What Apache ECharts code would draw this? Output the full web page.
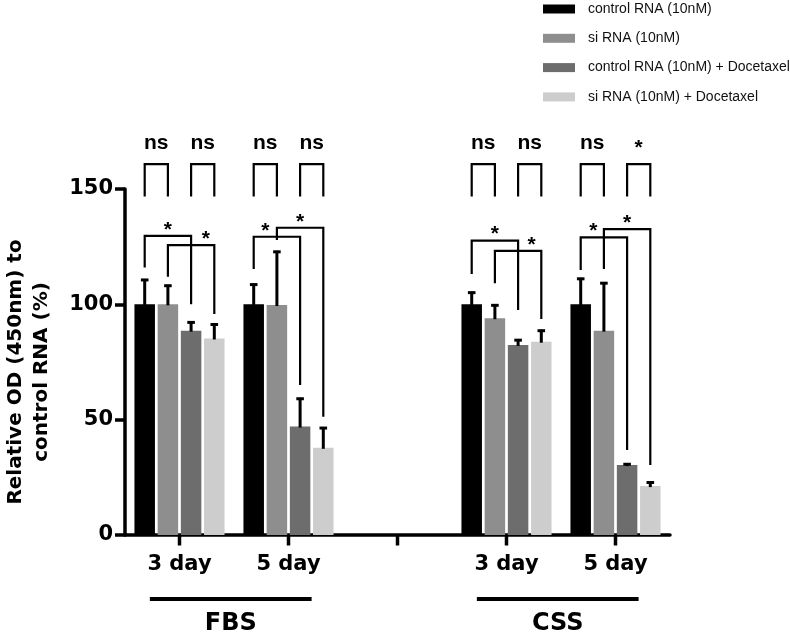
<!DOCTYPE html>
<html>
<head>
<meta charset="utf-8">
<script src="https://cdn.jsdelivr.net/npm/echarts@6/dist/echarts.min.js"></script>
<style>
html,body{margin:0;padding:0;background:#fff;}
#chart{width:790px;height:634px;}
</style>
</head>
<body>
<div id="chart"></div>
<script>
// ---- data ----
var categories = ['3 day', '5 day', '', '3 day', '5 day'];
var seriesNames = ['control RNA (10nM)', 'si RNA (10nM)', 'control RNA (10nM) + Docetaxel', 'si RNA (10nM) + Docetaxel'];
var controlRNA    = [100, 100, null, 100, 100];
var siRNA         = [100, 99.7, null, 94, 88.6];
var controlDoc    = [88.6, 47, null, 82.4, 30.3];
var siDoc         = [85.2, 37.8, null, 83.8, 21.2];
var controlRNAErr = [11, 9, null, 5.5, 11.5];
var siRNAErr      = [8.5, 23.5, null, 6, 21];
var controlDocErr = [4, 12.5, null, 2.5, 0.8];
var siDocErr      = [6.5, 9, null, 5.2, 2];
var yTicks = [0, 50, 100, 150];
// brackets: [category, barA, barB, top, leftLegEnd, rightLegEnd, label, labelFraction]
var pairBrackets = [
  [0, 0, 1, 160.8, 146.7, 146.7, 'ns', 0.5],
  [0, 2, 3, 160.8, 146.7, 146.7, 'ns', 0.5],
  [1, 0, 1, 160.8, 146.7, 146.7, 'ns', 0.5],
  [1, 2, 3, 160.8, 146.7, 146.7, 'ns', 0.5],
  [3, 0, 1, 160.8, 146.7, 146.7, 'ns', 0.5],
  [3, 2, 3, 160.8, 146.7, 146.7, 'ns', 0.5],
  [4, 0, 1, 160.8, 146.7, 146.7, 'ns', 0.5],
  [4, 2, 3, 160.8, 146.7, 146.7, '*', 0.5]
];
var crossBrackets = [
  [0, 0, 2, 129.7, 116, 100, '*', 0.5],
  [0, 1, 3, 125.7, 112, 95.8, '*', 0.82],
  [1, 0, 2, 129.3, 115.3, 65, '*', 0.25],
  [1, 1, 3, 133.2, 127.9, 51.3, '*', 0.5],
  [3, 0, 2, 127.6, 113.1, 97.5, '*', 0.5],
  [3, 1, 3, 123.2, 109.1, 93.6, '*', 0.79],
  [4, 0, 2, 129, 114.9, 36.8, '*', 0.27],
  [4, 1, 3, 132.6, 115.3, 30.3, '*', 0.5]
];
var groups = [[0, 1, 'FBS'], [3, 4, 'CSS']];

// ---- styling / layout ----
var colors = ['#000000', '#8e8e8e', '#6d6d6d', '#cdcdcd'];
var BAR_W = 20.5, BAR_GAP = 2.7, STEP = BAR_W + BAR_GAP;
var BOLD = '"DejaVu Sans", sans-serif';
var ARIAL = '"Liberation Sans", Arial, sans-serif';

var values = [controlRNA, siRNA, controlDoc, siDoc];
var errs = [controlRNAErr, siRNAErr, controlDocErr, siDocErr];

var errData = [];
values.forEach(function (arr, s) {
  arr.forEach(function (v, c) {
    if (v != null) errData.push([c, s, v, errs[s][c]]);
  });
});

function barX(api, cat, bar) {
  return api.coord([cat, 0])[0] + (bar - 1.5) * STEP;
}

function bracketRenderer(list, kind) {
  return function (params, api) {
    var b = list[params.dataIndex];
    var xA = barX(api, b[0], b[1]);
    var xB = barX(api, b[0], b[2]);
    var yT = api.coord([b[0], b[3]])[1];
    var yL = api.coord([b[0], b[4]])[1];
    var yR = api.coord([b[0], b[5]])[1];
    var lx = xA + b[7] * (xB - xA);
    var isStar = b[6] === '*';
    var centerY = kind === 'pair' ? yT - 21 : yT - 11;
    var ty = isStar ? centerY + 5 : centerY;
    return {
      type: 'group',
      children: [
        { type: 'polyline', shape: { points: [[xA, yL], [xA, yT], [xB, yT], [xB, yR]] },
          style: { stroke: '#000', lineWidth: 2.2, fill: null } },
        { type: 'text', x: lx, y: ty,
          style: { text: b[6], fill: '#000', align: 'center', verticalAlign: 'middle',
                   font: 'bold 21px ' + ARIAL } }
      ]
    };
  };
}

var series = [];
values.forEach(function (arr, s) {
  series.push({
    name: seriesNames[s], type: 'bar', data: arr,
    barWidth: BAR_W, barGap: (BAR_GAP / BAR_W * 100) + '%',
    itemStyle: { color: colors[s] }, z: 2
  });
});
series.push({
  type: 'custom', data: errData, clip: false, z: 3,
  renderItem: function (params, api) {
    var c = api.value(0), s = api.value(1), v = api.value(2), e = api.value(3);
    var x = barX(api, c, s);
    var yb = api.coord([c, v])[1];
    var yt = api.coord([c, v + e])[1];
    return {
      type: 'group',
      children: [
        { type: 'line', shape: { x1: x, y1: yb + 1, x2: x, y2: yt }, style: { stroke: '#000', lineWidth: 3 } },
        { type: 'line', shape: { x1: x - 3.8, y1: yt + 1, x2: x + 3.8, y2: yt + 1 }, style: { stroke: '#000', lineWidth: 3 } }
      ]
    };
  }
});
series.push({
  type: 'custom', data: pairBrackets.map(function (b) { return [b[0], b[3]]; }), clip: false, z: 3,
  renderItem: bracketRenderer(pairBrackets, 'pair')
});
series.push({
  type: 'custom', data: crossBrackets.map(function (b) { return [b[0], b[3]]; }), clip: false, z: 3,
  renderItem: bracketRenderer(crossBrackets, 'cross')
});
// category tick marks and category labels under the x axis
series.push({
  type: 'custom', data: categories.map(function (c, i) { return [i, 0]; }), clip: false, z: 6,
  renderItem: function (params, api) {
    var i = params.dataIndex;
    var p = api.coord([i, 0]);
    return {
      type: 'group',
      children: [
        { type: 'rect', shape: { x: p[0] - 1.75, y: p[1] + 1, width: 3.5, height: 9.5 }, style: { fill: '#000' } },
        { type: 'text', x: p[0], y: p[1] + 30,
          style: { text: categories[i], fill: '#000', align: 'center', verticalAlign: 'middle', font: 'bold 21px ' + BOLD } }
      ]
    };
  }
});
series.push({
  type: 'custom', data: groups.map(function (g) { return [g[0], 0]; }), clip: false, z: 6,
  renderItem: function (params, api) {
    var g = groups[params.dataIndex];
    var band = api.size([1, 0])[0];
    var x1 = api.coord([g[0], 0])[0] - 0.272 * band;
    var x2 = api.coord([g[1], 0])[0] + 0.212 * band;
    var y0 = api.coord([g[0], 0])[1];
    return {
      type: 'group',
      children: [
        { type: 'line', shape: { x1: x1, y1: y0 + 64, x2: x2, y2: y0 + 64 }, style: { stroke: '#000', lineWidth: 4 } },
        { type: 'text', x: (x1 + x2) / 2, y: y0 + 89,
          style: { text: g[2], fill: '#000', align: 'center', verticalAlign: 'middle', font: 'bold 24px ' + BOLD } }
      ]
    };
  }
});

var chart = echarts.init(document.getElementById('chart'), null, { renderer: 'canvas' });
chart.setOption({
  animation: false,
  backgroundColor: '#ffffff',
  grid: { left: 125, right: 120, top: 189, bottom: 99, containLabel: false },
  legend: {
    data: seriesNames, orient: 'vertical', left: 543, top: 2, padding: 0,
    itemWidth: 32, itemHeight: 9, itemGap: 15.3, icon: 'rect',
    textStyle: { fontFamily: ARIAL, fontSize: 14, color: '#111', padding: [0, 0, 0, 8] }
  },
  xAxis: {
    type: 'category', data: categories,
    axisLine: { show: true, lineStyle: { color: '#000', width: 3.5 } },
    axisTick: { show: false },
    axisLabel: { show: false },
    splitLine: { show: false }
  },
  yAxis: {
    type: 'value', min: yTicks[0], max: yTicks[yTicks.length - 1], interval: yTicks[1] - yTicks[0],
    axisLine: { show: true, lineStyle: { color: '#000', width: 3.5 } },
    axisTick: { show: true, length: 10, lineStyle: { color: '#000', width: 3.5 } },
    axisLabel: { margin: 12, color: '#000', fontFamily: BOLD, fontWeight: 'bold', fontSize: 21 },
    splitLine: { show: false }
  },
  graphic: [{
    type: 'text', x: 29, y: 372, rotation: Math.PI / 2,
    style: { text: 'Relative OD (450nm) to\ncontrol RNA (%)', align: 'center', verticalAlign: 'middle',
             font: 'bold 20px ' + BOLD, fill: '#000', lineHeight: 26 }
  }],
  series: series
});
</script>
</body>
</html>
